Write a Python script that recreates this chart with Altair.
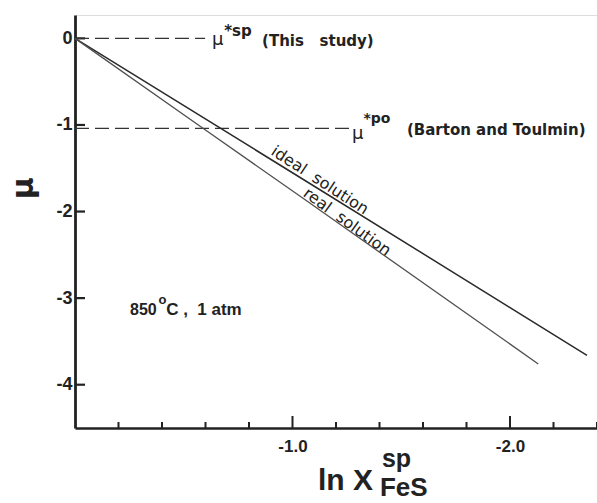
import altair as alt
import pandas as pd

# ---- data ----
ideal_x = [0.0, -1.05, -2.354]
ideal_y = [0.0, -1.63, -3.66]
real_x = [0.0, -0.59, -1.05, -2.13]
real_y = [0.0, -1.04, -1.85, -3.76]

mu_sp = 0.0
mu_po = -1.04
sp_dash_x = [0.0, -0.598]
po_dash_x = [0.0, -1.26]

x_minor_ticks = [-0.2, -0.4, -0.6, -0.8, -1.2, -1.4, -1.6, -1.8, -2.2, -2.4]
x_major_ticks = [-1.0, -2.0]
y_ticks = [0, -1, -2, -3, -4]

FONT = "Liberation Sans"
AFONT = "DejaVu Sans"
INK = "#222222"
NB = "\u00a0"

W, H = 522, 413
xs = alt.Scale(domain=[-2.4, 0], reverse=True, nice=False, zero=False)
ys = alt.Scale(domain=[-4.5, 0.27], nice=False, zero=False)

lines_df = pd.DataFrame(
    [{"x": a, "y": b, "s": "ideal"} for a, b in zip(ideal_x, ideal_y)]
    + [{"x": a, "y": b, "s": "real"} for a, b in zip(real_x, real_y)]
)

base_axes = alt.Chart(pd.DataFrame({"x": [0.0], "y": [0.0]})).mark_point(opacity=0).encode(
    x=alt.X("x:Q", scale=xs, axis=alt.Axis(
        values=x_major_ticks, title=None, grid=False, ticks=False,
        labelExpr="'-' + format(abs(datum.value), '.1f')",
        domainColor=INK, domainWidth=2.5, labelFont=FONT, labelFontSize=17,
        labelFontWeight="bold", labelColor=INK, labelPadding=10)),
    y=alt.Y("y:Q", scale=ys, axis=alt.Axis(
        values=y_ticks, title=None, grid=False, ticks=False,
        labelExpr="datum.value == 0 ? '0' : '-' + format(abs(datum.value), 'd')",
        domainColor=INK, domainWidth=2.8, labelFont=FONT, labelFontSize=18,
        labelFontWeight="bold", labelColor=INK, labelPadding=3)),
)

ideal = alt.Chart(lines_df[lines_df.s == "ideal"]).mark_line(
    color="#2a2a2a", strokeWidth=1.5).encode(
    x=alt.X("x:Q", scale=xs), y=alt.Y("y:Q", scale=ys))
real = alt.Chart(lines_df[lines_df.s == "real"]).mark_line(
    color="#505050", strokeWidth=1.3).encode(
    x=alt.X("x:Q", scale=xs), y=alt.Y("y:Q", scale=ys))

dash_df = pd.DataFrame({
    "x": [sp_dash_x[0], po_dash_x[0]],
    "x2": [sp_dash_x[1], po_dash_x[1]],
    "y": [mu_sp, mu_po],
})
dashes = alt.Chart(dash_df).mark_rule(
    color="#333333", strokeWidth=1.2, strokeDash=[14, 6]).encode(
    x=alt.X("x:Q", scale=xs), x2="x2:Q", y=alt.Y("y:Q", scale=ys))

minor = alt.Chart(pd.DataFrame({"x": x_minor_ticks})).mark_rule(
    color=INK, strokeWidth=2).encode(
    x=alt.X("x:Q", scale=xs), y=alt.value(H), y2=alt.value(H - 6))
major = alt.Chart(pd.DataFrame({"x": x_major_ticks})).mark_rule(
    color=INK, strokeWidth=2).encode(
    x=alt.X("x:Q", scale=xs), y=alt.value(H), y2=alt.value(H - 12))
yt = alt.Chart(pd.DataFrame({"y": y_ticks})).mark_rule(
    color=INK, strokeWidth=2.2).encode(
    y=alt.Y("y:Q", scale=ys), x=alt.value(0), x2=alt.value(10))

# ---- annotations (text, anchor in data units, style) ----
ann = [
    # text, x, y, font, size, weight, dy, angle, align, baseline
    ("μ", -0.630, mu_sp, AFONT, 18, "normal", 2, 0, "left", "middle"),
    ("*sp", -0.686, mu_sp, AFONT, 15, "bold", -7, 0, "left", "middle"),
    ("(This" + NB * 3 + "study)", -0.860, mu_sp, AFONT, 15, "bold", 3, 0, "left", "middle"),
    ("μ", -1.274, mu_po, AFONT, 18, "normal", 6, 0, "left", "middle"),
    ("*po", -1.326, mu_po, AFONT, 14, "bold", -9, 0, "left", "middle"),
    ("(Barton and Toulmin)", -1.526, mu_po, AFONT, 15, "bold", 2, 0, "left", "middle"),
    ("ideal" + NB * 2 + "solution", -1.126, -1.64, AFONT, 16, "normal", 0, 33, "center", "middle"),
    ("real" + NB * 2 + "solution", -1.251, -2.12, AFONT, 16, "normal", 0, 36, "center", "middle"),
    ("850", -0.253, -3.141, FONT, 16, "bold", 0, 0, "left", "middle"),
    ("o", -0.384, -3.141, FONT, 13, "bold", -10, 0, "left", "middle"),
    ("C ," + NB * 2 + "1 atm", -0.419, -3.141, FONT, 17, "bold", 0, 0, "left", "middle"),
    ("ln X", -1.117, -5.22, FONT, 30, "bold", 0, 0, "left", "alphabetic"),
    ("sp", -1.411, -4.954, FONT, 25, "bold", 0, 0, "left", "alphabetic"),
    ("FeS", -1.402, -5.289, FONT, 26, "bold", 0, 0, "left", "alphabetic"),
    ("μ", 0.234, -1.732, AFONT, 30, "bold", 0, 270, "center", "middle"),
]

layers = [base_axes, minor, major, yt, dashes, ideal, real]
for t, x, y, font, size, weight, dy, ang, al, bl in ann:
    layers.append(
        alt.Chart(pd.DataFrame({"x": [x], "y": [y], "t": [t]})).mark_text(
            font=font, fontSize=size, fontWeight=weight, color=INK,
            dy=dy, angle=ang, align=al, baseline=bl).encode(
            x=alt.X("x:Q", scale=xs), y=alt.Y("y:Q", scale=ys), text="t:N")
    )

chart = alt.layer(*layers).properties(
    width=W, height=H,
    autosize=alt.AutoSizeParams(type="none"),
    padding={"left": 75, "top": 15, "right": 0, "bottom": 75},
).configure_view(stroke=None).configure(background="white")

chart.save("out.html", embed_options={"renderer": "svg", "actions": False})
